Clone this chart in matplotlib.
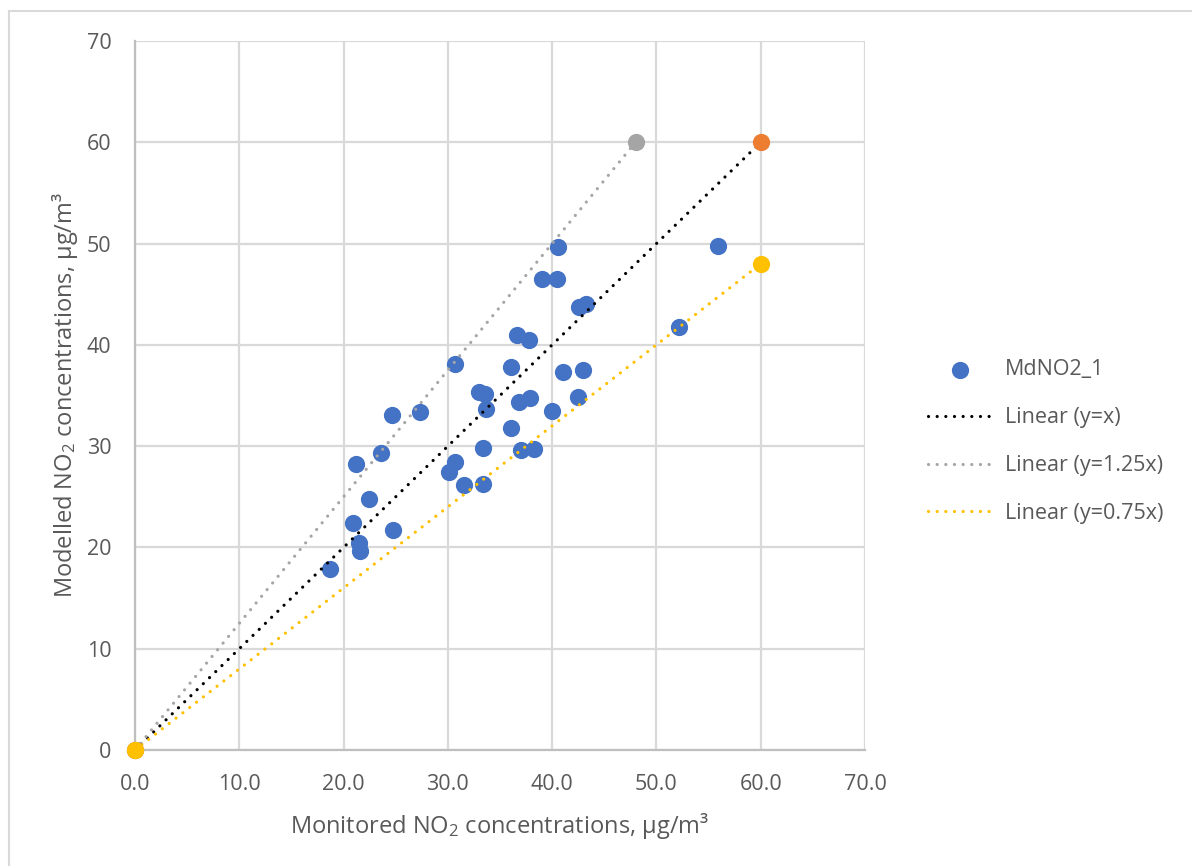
import matplotlib.pyplot as plt
from matplotlib.lines import Line2D

# monitored vs modelled NO2 (ug/m3)
monitored = [40.6, 39.0, 40.5, 42.6, 43.2, 36.6, 37.8, 30.7, 36.1, 41.0,
             43.0, 33.0, 33.6, 33.7, 36.8, 37.9, 42.5, 40.0, 24.6, 27.3,
             36.1, 23.6, 33.4, 37.0, 38.3, 21.2, 30.7, 30.1, 31.5, 33.4,
             22.4, 20.9, 24.7, 21.5, 21.6, 18.7, 55.9, 52.2]
modelled = [49.7, 46.5, 46.5, 43.7, 44.0, 41.0, 40.5, 38.1, 37.8, 37.3,
            37.5, 35.3, 35.1, 33.7, 34.4, 34.8, 34.9, 33.5, 33.1, 33.4,
            31.8, 29.3, 29.8, 29.6, 29.7, 28.2, 28.4, 27.4, 26.2, 26.3,
            24.8, 22.4, 21.7, 20.4, 19.6, 17.9, 49.8, 41.8]

# reference series (end points)
line_1_x = [0, 60]
line_1_y = [0, 60]
line_125_x = [0, 48]
line_125_y = [0, 60]
line_075_x = [0, 60]
line_075_y = [0, 48]

x_ticks = [0, 10, 20, 30, 40, 50, 60, 70]
y_ticks = [0, 10, 20, 30, 40, 50, 60, 70]

blue = '#4472C4'
orange = '#ED7D31'
grey = '#A5A5A5'
yellow = '#FFC000'
txt = '#595959'

plt.rcParams['font.family'] = ['Open Sans', 'DejaVu Sans']
plt.rcParams['mathtext.fontset'] = 'custom'
plt.rcParams['mathtext.rm'] = 'Open Sans'
plt.rcParams['mathtext.it'] = 'Open Sans'

fig = plt.figure(figsize=(11.92, 8.66), dpi=100)
ax = fig.add_axes([135 / 1192, 1 - 750 / 866, 730 / 1192, 709 / 866])

# outer chart border (only left/top visible in the crop)
fig.add_artist(Line2D([9 / 1192, 9 / 1192], [0, 1 - 11 / 866], color='#D9D9D9', lw=1.5))
fig.add_artist(Line2D([9 / 1192, 1], [1 - 11 / 866, 1 - 11 / 866], color='#D9D9D9', lw=1.5))

ax.scatter(monitored, modelled, s=130, color=blue, zorder=3, label='MdNO2_1')

dots = (0, (0.01, 2.7))
line_kw = dict(lw=2.3, linestyle=dots, dash_capstyle='round', zorder=4)
ax.plot(line_1_x, line_1_y, color='black', label='Linear (y=x)', **line_kw)
ax.plot(line_125_x, line_125_y, color=grey, label='Linear (y=1.25x)', **line_kw)
ax.plot(line_075_x, line_075_y, color=yellow, label='Linear (y=0.75x)', **line_kw)

ax.scatter(line_125_x, line_125_y, s=130, color=grey, zorder=5, clip_on=False)
ax.scatter(line_1_x, line_1_y, s=130, color=orange, zorder=5, clip_on=False)
ax.scatter(line_075_x, line_075_y, s=130, color=yellow, zorder=6, clip_on=False)

ax.set_xlim(0, 70)
ax.set_ylim(0, 70)
ax.set_xticks(x_ticks)
ax.set_xticklabels([f'{v:.1f}' for v in x_ticks])
ax.set_yticks(y_ticks)
ax.grid(True, color='#D9D9D9', lw=1.6, zorder=0)
ax.set_axisbelow(True)
for side in ['top', 'right']:
    ax.spines[side].set_visible(False)
for side in ['left', 'bottom']:
    ax.spines[side].set_color('#BFBFBF')
    ax.spines[side].set_linewidth(1.6)
ax.tick_params(axis='x', length=0, labelsize=15.5, colors=txt, pad=17)
ax.tick_params(axis='y', length=0, labelsize=15.5, colors=txt, pad=17)

ax.set_xlabel('Monitored NO$_2$ concentrations, µg/m³', fontsize=17, color=txt, labelpad=12)
ax.set_ylabel('Modelled NO$_2$ concentrations, µg/m³', fontsize=17, color=txt, labelpad=5)

leg = ax.legend(loc='center left', bbox_to_anchor=(1.06, 0.435), frameon=False,
                fontsize=15.5, labelspacing=1.25, handlelength=3.0, handletextpad=0.55,
                labelcolor=txt)

plt.savefig('out.png', dpi=100)
